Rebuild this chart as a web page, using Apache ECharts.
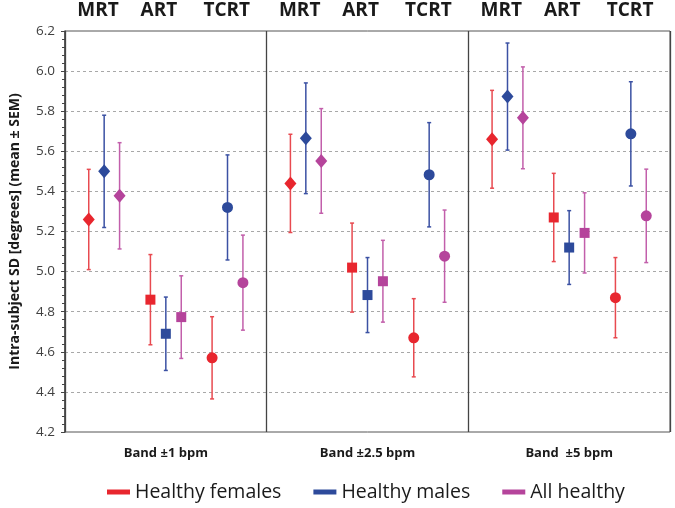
<!DOCTYPE html>
<html>
<head>
<meta charset="utf-8">
<script src="https://cdn.jsdelivr.net/npm/echarts@6/dist/echarts.min.js"></script>
<style>
html,body{margin:0;padding:0;background:#fff;}
#chart{width:675px;height:508px;}
</style>
</head>
<body>
<div id="chart"></div>
<script>
// panels (bands) and methods
var bands = ['Band ±1 bpm', 'Band ±2.5 bpm', 'Band  ±5 bpm'];
var methods = ['MRT', 'ART', 'TCRT'];
var yTicks = [4.2, 4.4, 4.6, 4.8, 5.0, 5.2, 5.4, 5.6, 5.8, 6.0, 6.2];

// order: band1 MRT, ART, TCRT, band2 MRT, ART, TCRT, band3 ...
var femalesMean = [5.26, 4.86, 4.57, 5.44, 5.02, 4.67, 5.66, 5.27, 4.87];
var femalesSem = [0.25, 0.225, 0.205, 0.245, 0.222, 0.195, 0.244, 0.22, 0.2];
var malesMean = [5.50, 4.69, 5.32, 5.665, 4.883, 5.483, 5.873, 5.12, 5.687];
var malesSem = [0.28, 0.183, 0.262, 0.276, 0.187, 0.26, 0.267, 0.184, 0.26];
var allMean = [5.378, 4.773, 4.945, 5.552, 4.952, 5.077, 5.767, 5.193, 5.278];
var allSem = [0.265, 0.206, 0.237, 0.261, 0.204, 0.23, 0.254, 0.2, 0.233];

var groups = [
    {name: 'Healthy females', mean: femalesMean, sem: femalesSem, color: '#e8262e', bar: '#e84a50'},
    {name: 'Healthy males', mean: malesMean, sem: malesSem, color: '#2d4a9b', bar: '#3b51a3'},
    {name: 'All healthy', mean: allMean, sem: allSem, color: '#b5449b', bar: '#c25fab'}
];

var PANEL = 13.08;//slots per panel
var OFF = 1.54;
var shapes = ['diamond', 'rect', 'circle'];
var sizes = [[12, 14], 10, 11];
var labelShift = [-0.4, -0.45, -0.05];
var font = 'Open Sans';

function xPos(i, s) {
    var p = Math.floor(i / 3), g = i % 3;
    return p * PANEL + OFF + g * 4 + s;
}

var series = [];
groups.forEach(function (grp, s) {
    var bars = [], pts = [];
    for (var i = 0; i < grp.mean.length; i++) {
        bars.push([xPos(i, s), grp.mean[i] - grp.sem[i], grp.mean[i] + grp.sem[i]]);
        pts.push({value: [xPos(i, s), grp.mean[i]], symbol: shapes[i % 3], symbolSize: sizes[i % 3]});
    }
    series.push({
        name: grp.name,
        type: 'custom',
        z: 2,
        data: bars,
        encode: {x: 0, y: [1, 2]},
        renderItem: function (params, api) {
            var x = api.value(0);
            var lo = api.coord([x, api.value(1)]);
            var hi = api.coord([x, api.value(2)]);
            var st = {stroke: grp.bar, lineWidth: 1.5};
            return {
                type: 'group',
                children: [
                    {type: 'line', shape: {x1: lo[0], y1: lo[1], x2: hi[0], y2: hi[1]}, style: st},
                    {type: 'line', shape: {x1: hi[0] - 2, y1: hi[1], x2: hi[0] + 2, y2: hi[1]}, style: st},
                    {type: 'line', shape: {x1: lo[0] - 2, y1: lo[1], x2: lo[0] + 2, y2: lo[1]}, style: st}
                ]
            };
        }
    });
    series.push({
        name: grp.name,
        type: 'scatter',
        z: 3,
        itemStyle: {color: grp.color, opacity: 1},
        data: pts
    });
});

var myChart = echarts.init(document.getElementById('chart'));
option = {
    animation: false,
    grid: {left: 62, right: 5, top: 31, bottom: 76, show: true, borderColor: '#555', borderWidth: 1},
    legend: {
        left: 107,
        top: 482,
        padding: 0,
        itemWidth: 23,
        itemHeight: 5,
        itemGap: 32,
        icon: 'rect',
        textStyle: {fontFamily: font, fontSize: 19.5, color: '#1a1a1a'},
        data: groups.map(function (g) { return {name: g.name, itemStyle: {color: g.color}}; })
    },
    xAxis: [
        {
            type: 'value',
            min: 0,
            max: 3 * PANEL,
            interval: PANEL,
            axisLine: {show: false},
            axisTick: {show: false},
            axisLabel: {show: false},
            splitLine: {show: true, lineStyle: {color: '#444', width: 1.3}}
        },
        {
            type: 'category',
            data: bands,
            position: 'bottom',
            axisLine: {show: false},
            axisTick: {show: false},
            axisLabel: {margin: 15, fontFamily: font, fontWeight: 'bold', fontSize: 13, color: '#1a1a1a'},
            splitLine: {show: false}
        }
    ],
    yAxis: {
        type: 'value',
        min: yTicks[0],
        max: yTicks[yTicks.length - 1],
        interval: 0.2,
        name: 'Intra-subject SD [degrees] (mean ± SEM)',
        nameLocation: 'middle',
        nameGap: 43,
        nameTextStyle: {fontFamily: font, fontWeight: 'bold', fontSize: 14, color: '#1a1a1a'},
        axisLine: {show: true, lineStyle: {color: '#444', width: 1.5}},
        axisTick: {show: true, length: 4, lineStyle: {color: '#444'}},
        minorTick: {show: true, splitNumber: 5, length: 3, lineStyle: {color: '#444'}},
        axisLabel: {
            margin: 10,
            fontFamily: font,
            fontSize: 13.5,
            color: '#404040',
            formatter: function (v) { return v.toFixed(1); }
        },
        splitLine: {
            show: true,
            showMinLine: false,
            showMaxLine: false,
            lineStyle: {color: '#a8a8a8', type: [3, 3], width: 1}
        }
    },
    series: series
};
myChart.setOption(option);

// method names above each group
var texts = [];
for (var i = 0; i < 9; i++) {
    var px = myChart.convertToPixel({xAxisIndex: 0}, xPos(i, 1) + labelShift[i % 3]);
    texts.push({
        type: 'text',
        x: px,
        y: 11,
        style: {
            text: methods[i % 3],
            font: 'bold 19px "Open Sans"',
            fill: '#1a1a1a',
            align: 'center',
            verticalAlign: 'middle'
        }
    });
}
myChart.setOption({graphic: texts});
</script>
</body>
</html>
